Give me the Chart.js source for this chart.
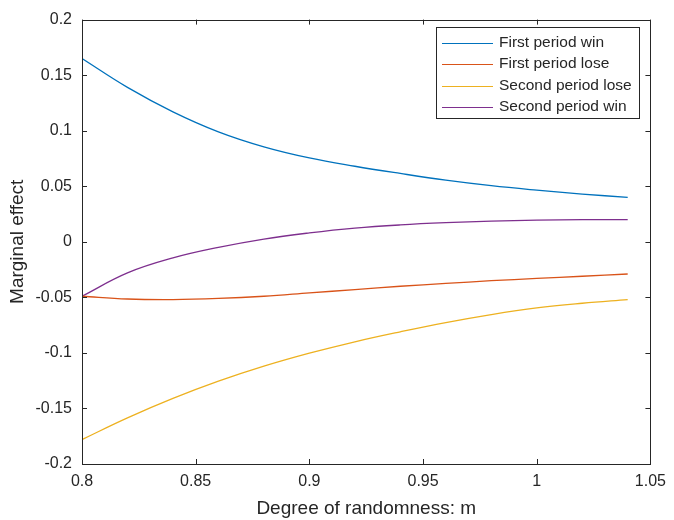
<!DOCTYPE html>
<html>
<head>
<meta charset="utf-8">
<script src="https://cdn.jsdelivr.net/npm/chart.js@4/dist/chart.umd.min.js"></script>
<style>
  html, body { margin: 0; padding: 0; background: #fff; }
  #wrap { width: 674px; height: 520px; }
</style>
</head>
<body>
<div id="wrap"><canvas id="chart" width="674" height="520"></canvas></div>
<script>
const mValues = [0.80, 0.82, 0.84, 0.86, 0.88, 0.90, 0.92, 0.94, 0.96, 0.98, 1.00, 1.02, 1.04];
const firstWin = [0.165, 0.139, 0.117, 0.099, 0.0855, 0.0755, 0.068, 0.0615, 0.0555, 0.0505, 0.0465, 0.043, 0.040];
const firstLose = [-0.049, -0.0515, -0.052, -0.051, -0.049, -0.046, -0.043, -0.040, -0.0375, -0.035, -0.033, -0.031, -0.029];
const secondLose = [-0.178, -0.1585, -0.141, -0.1255, -0.112, -0.1003, -0.090, -0.081, -0.0727, -0.0655, -0.0595, -0.0553, -0.052];
const secondWin = [-0.049, -0.028, -0.0145, -0.005, 0.0025, 0.008, 0.0123, 0.0152, 0.0172, 0.0186, 0.0195, 0.0199, 0.020];

const seriesNames = ["First period win", "First period lose", "Second period lose", "Second period win"];
const seriesColors = ["#0072BD", "#D95319", "#EDB120", "#7E2F8E"];
const xTicks = [0.8, 0.85, 0.9, 0.95, 1, 1.05];
const yTicks = [-0.2, -0.15, -0.1, -0.05, 0, 0.05, 0.1, 0.15, 0.2];

const axisColor = "#262626";
const fontFamily = "'Liberation Sans', Arial, sans-serif";

function toPoints(values) {
  return values.map(function(v, i) { return { x: mValues[i], y: v }; });
}

const allSeries = [firstWin, firstLose, secondLose, secondWin];

// box round the plot with inward ticks, like matlab
const framePlugin = {
  id: "frame",
  afterDatasetsDraw: function(chart) {
    const ctx = chart.ctx;
    const a = chart.chartArea;
    const xs = chart.scales.x;
    const ys = chart.scales.y;
    ctx.save();
    ctx.strokeStyle = axisColor;
    ctx.lineWidth = 1;
    ctx.strokeRect(Math.round(a.left) + 0.5, Math.round(a.top) + 0.5,
      Math.round(a.right - a.left), Math.round(a.bottom - a.top));
    ctx.beginPath();
    xTicks.forEach(function(t) {
      const px = Math.round(xs.getPixelForValue(t)) + 0.5;
      ctx.moveTo(px, a.bottom);
      ctx.lineTo(px, a.bottom - 5);
      ctx.moveTo(px, a.top);
      ctx.lineTo(px, a.top + 5);
    });
    yTicks.forEach(function(t) {
      const py = Math.round(ys.getPixelForValue(t)) + 0.5;
      ctx.moveTo(a.left, py);
      ctx.lineTo(a.left + 5, py);
      ctx.moveTo(a.right, py);
      ctx.lineTo(a.right - 5, py);
    });
    ctx.stroke();

    // legend box
    const bx = 436, by = 27, bw = 203, bh = 91;
    ctx.fillStyle = "#fff";
    ctx.fillRect(bx, by, bw, bh);
    ctx.strokeRect(bx + 0.5, by + 0.5, bw, bh);
    ctx.font = "15.5px " + fontFamily;
    ctx.textBaseline = "middle";
    ctx.textAlign = "left";
    chart.data.datasets.forEach(function(ds, i) {
      const ry = by + 15.5 + i * 21.5;
      ctx.strokeStyle = ds.borderColor;
      ctx.beginPath();
      ctx.moveTo(442, Math.round(ry) + 0.5);
      ctx.lineTo(493, Math.round(ry) + 0.5);
      ctx.stroke();
      ctx.fillStyle = axisColor;
      ctx.fillText(ds.label, 499, ry);
    });
    ctx.restore();
  }
};

new Chart(document.getElementById("chart"), {
  type: "line",
  data: {
    datasets: allSeries.map(function(vals, i) {
      return {
        label: seriesNames[i],
        data: toPoints(vals),
        borderColor: seriesColors[i],
        backgroundColor: seriesColors[i],
        borderWidth: 1.3,
        pointRadius: 0,
        fill: false,
        tension: 0.4
      };
    })
  },
  options: {
    responsive: false,
    animation: false,
    layout: { padding: { top: 13, right: 21, bottom: 0, left: 0 } },
    plugins: {
      legend: { display: false },
      tooltip: { enabled: false }
    },
    scales: {
      x: {
        type: "linear",
        min: 0.8,
        max: 1.05,
        afterBuildTicks: function(scale) {
          scale.ticks = xTicks.map(function(v) { return { value: v }; });
        },
        afterFit: function(scale) { scale.height = 56; },
        grid: { display: false, drawTicks: false },
        border: { display: false },
        ticks: {
          color: axisColor,
          padding: 8,
          maxRotation: 0,
          font: { family: fontFamily, size: 16 },
          callback: function(v) { return String(v); }
        },
        title: {
          display: true,
          text: "Degree of randomness: m",
          color: axisColor,
          padding: { top: 0, bottom: 0 },
          font: { family: fontFamily, size: 19 }
        }
      },
      y: {
        type: "linear",
        min: -0.2,
        max: 0.2,
        afterBuildTicks: function(scale) {
          scale.ticks = yTicks.map(function(v) { return { value: v }; });
        },
        afterFit: function(scale) { scale.width = 82; },
        grid: { display: false, drawTicks: false },
        border: { display: false },
        ticks: {
          color: axisColor,
          padding: 10,
          font: { family: fontFamily, size: 16 },
          callback: function(v) { return String(v); }
        },
        title: {
          display: true,
          text: "Marginal effect",
          color: axisColor,
          padding: { top: 6, bottom: 0 },
          font: { family: fontFamily, size: 19 }
        }
      }
    }
  },
  plugins: [framePlugin]
});
</script>
</body>
</html>
